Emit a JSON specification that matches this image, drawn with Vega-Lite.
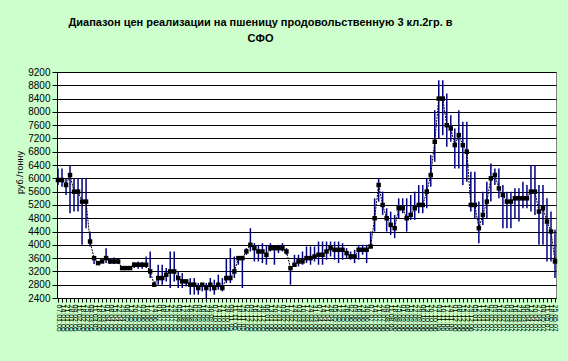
{
"$schema": "https://vega.github.io/schema/vega-lite/v6.json",
"autosize": "none",
"width": 499,
"height": 226,
"padding": {"left": 57, "top": 72, "right": 12, "bottom": 63},
"background": "#CCFFCC",
"title": {"text": ["Диапазон цен реализации на пшеницу продовольственную 3 кл.2гр. в", "СФО"], "font": "Liberation Sans", "fontSize": 11, "fontWeight": "bold", "color": "#000000", "anchor": "middle", "dx": -46, "offset": 23, "lineHeight": 16},
"config": {
  "view": {"fill": "#FFFFFF", "stroke": "#808080", "strokeWidth": 1},
  "axis": {"labelFont": "Liberation Sans", "titleFont": "Liberation Sans", "labelColor": "#000000", "titleColor": "#000000", "domainColor": "#000000", "tickColor": "#000000"}
},
"data": {"values": [
{"d":"07.01.05","c":5950,"h":6300,"l":5800},
{"d":"14.01.05","c":5950,"h":6300,"l":5750},
{"d":"21.01.05","c":5800,"h":5980,"l":5500},
{"d":"28.01.05","c":6100,"h":6380,"l":4950},
{"d":"04.02.05","c":5600,"h":6000,"l":5000},
{"d":"11.02.05","c":5600,"h":6000,"l":5000},
{"d":"18.02.05","c":5300,"h":6000,"l":4000},
{"d":"25.02.05","c":5300,"h":6000,"l":4500},
{"d":"04.03.05","c":4100,"h":4400,"l":3950},
{"d":"11.03.05","c":3600,"h":3650,"l":3420},
{"d":"18.03.05","c":3450,"h":3500,"l":3420},
{"d":"25.03.05","c":3500,"h":3550,"l":3450},
{"d":"01.04.05","c":3600,"h":3900,"l":3450},
{"d":"08.04.05","c":3500,"h":3600,"l":3420},
{"d":"15.04.05","c":3500,"h":3620,"l":3420},
{"d":"22.04.05","c":3500,"h":3580,"l":3420},
{"d":"29.04.05","c":3300,"h":3350,"l":3280},
{"d":"06.05.05","c":3300,"h":3350,"l":3280},
{"d":"13.05.05","c":3300,"h":3350,"l":3280},
{"d":"20.05.05","c":3400,"h":3480,"l":3300},
{"d":"27.05.05","c":3400,"h":3500,"l":3280},
{"d":"03.06.05","c":3400,"h":3480,"l":3280},
{"d":"10.06.05","c":3400,"h":3650,"l":3300},
{"d":"17.06.05","c":3200,"h":3800,"l":3000},
{"d":"24.06.05","c":2800,"h":2900,"l":2750},
{"d":"01.07.05","c":3000,"h":3400,"l":2800},
{"d":"08.07.05","c":3000,"h":3400,"l":2800},
{"d":"15.07.05","c":3100,"h":3300,"l":2900},
{"d":"22.07.05","c":3200,"h":3800,"l":2700},
{"d":"29.07.05","c":3200,"h":3800,"l":2900},
{"d":"05.08.05","c":3000,"h":3200,"l":2700},
{"d":"12.08.05","c":2900,"h":3150,"l":2700},
{"d":"19.08.05","c":2900,"h":2950,"l":2750},
{"d":"26.08.05","c":2800,"h":3000,"l":2500},
{"d":"02.09.05","c":2800,"h":3000,"l":2500},
{"d":"09.09.05","c":2700,"h":2850,"l":2500},
{"d":"16.09.05","c":2800,"h":2850,"l":2600},
{"d":"23.09.05","c":2700,"h":2850,"l":2400},
{"d":"30.09.05","c":2800,"h":3000,"l":2600},
{"d":"07.10.05","c":2700,"h":2950,"l":2500},
{"d":"14.10.05","c":2800,"h":3100,"l":2650},
{"d":"21.10.05","c":2700,"h":3000,"l":2600},
{"d":"28.10.05","c":3000,"h":3600,"l":2850},
{"d":"04.11.05","c":3000,"h":3900,"l":2850},
{"d":"11.11.05","c":3200,"h":3650,"l":3000},
{"d":"18.11.05","c":3600,"h":3650,"l":3400},
{"d":"25.11.05","c":3600,"h":3650,"l":2700},
{"d":"02.12.05","c":3800,"h":3900,"l":3700},
{"d":"09.12.05","c":4000,"h":4500,"l":3800},
{"d":"16.12.05","c":3900,"h":4050,"l":3500},
{"d":"23.12.05","c":3800,"h":4000,"l":3500},
{"d":"30.12.05","c":3800,"h":4050,"l":3450},
{"d":"06.01.06","c":3700,"h":4000,"l":3400},
{"d":"13.01.06","c":3900,"h":4050,"l":3800},
{"d":"20.01.06","c":3900,"h":3950,"l":3400},
{"d":"27.01.06","c":3900,"h":4000,"l":3750},
{"d":"03.02.06","c":3900,"h":4050,"l":3800},
{"d":"10.02.06","c":3800,"h":3900,"l":3700},
{"d":"17.02.06","c":3300,"h":3350,"l":2800},
{"d":"24.02.06","c":3400,"h":3700,"l":3350},
{"d":"03.03.06","c":3500,"h":3700,"l":3350},
{"d":"10.03.06","c":3500,"h":3800,"l":3400},
{"d":"17.03.06","c":3600,"h":3950,"l":3450},
{"d":"24.03.06","c":3600,"h":3950,"l":3400},
{"d":"31.03.06","c":3650,"h":3950,"l":3500},
{"d":"07.04.06","c":3700,"h":4100,"l":3400},
{"d":"14.04.06","c":3700,"h":4100,"l":3400},
{"d":"21.04.06","c":3800,"h":4100,"l":3550},
{"d":"28.04.06","c":3900,"h":4100,"l":3650},
{"d":"05.05.06","c":3850,"h":4100,"l":3550},
{"d":"12.05.06","c":3850,"h":4100,"l":3450},
{"d":"19.05.06","c":3850,"h":4050,"l":3550},
{"d":"26.05.06","c":3750,"h":3900,"l":3600},
{"d":"02.06.06","c":3650,"h":3800,"l":3550},
{"d":"09.06.06","c":3650,"h":3850,"l":3450},
{"d":"16.06.06","c":3850,"h":4000,"l":3550},
{"d":"23.06.06","c":3850,"h":4000,"l":3700},
{"d":"30.06.06","c":3850,"h":4000,"l":3450},
{"d":"07.07.06","c":3950,"h":4400,"l":3900},
{"d":"14.07.06","c":4800,"h":5400,"l":4400},
{"d":"21.07.06","c":5800,"h":6000,"l":5300},
{"d":"28.07.06","c":5200,"h":5600,"l":4900},
{"d":"04.08.06","c":4800,"h":5100,"l":4400},
{"d":"11.08.06","c":4600,"h":5000,"l":4300},
{"d":"18.08.06","c":4500,"h":4900,"l":4200},
{"d":"25.08.06","c":5100,"h":5400,"l":4800},
{"d":"01.09.06","c":5100,"h":5400,"l":4950},
{"d":"08.09.06","c":4800,"h":5400,"l":4400},
{"d":"15.09.06","c":4900,"h":5500,"l":4750},
{"d":"22.09.06","c":5100,"h":5600,"l":4750},
{"d":"29.09.06","c":5200,"h":5800,"l":4950},
{"d":"06.10.06","c":5200,"h":5800,"l":4950},
{"d":"13.10.06","c":5600,"h":6000,"l":5100},
{"d":"20.10.06","c":6100,"h":6700,"l":5750},
{"d":"27.10.06","c":7100,"h":8050,"l":6500},
{"d":"03.11.06","c":8400,"h":8950,"l":7200},
{"d":"10.11.06","c":8400,"h":8950,"l":7300},
{"d":"17.11.06","c":7600,"h":8550,"l":6950},
{"d":"24.11.06","c":7500,"h":7900,"l":7100},
{"d":"01.12.06","c":7000,"h":7500,"l":6300},
{"d":"08.12.06","c":7300,"h":8050,"l":6300},
{"d":"15.12.06","c":7000,"h":7700,"l":5800},
{"d":"22.12.06","c":6800,"h":7700,"l":5900},
{"d":"29.12.06","c":5200,"h":6200,"l":5000},
{"d":"05.01.07","c":5200,"h":6200,"l":4800},
{"d":"12.01.07","c":4500,"h":5300,"l":4050},
{"d":"19.01.07","c":4900,"h":5600,"l":4600},
{"d":"26.01.07","c":5300,"h":5900,"l":4800},
{"d":"02.02.07","c":6000,"h":6450,"l":5300},
{"d":"09.02.07","c":6100,"h":6300,"l":5800},
{"d":"16.02.07","c":5700,"h":6300,"l":5400},
{"d":"23.02.07","c":5500,"h":5800,"l":4500},
{"d":"02.03.07","c":5300,"h":5600,"l":4500},
{"d":"09.03.07","c":5300,"h":5600,"l":4500},
{"d":"16.03.07","c":5400,"h":5700,"l":4800},
{"d":"23.03.07","c":5400,"h":5700,"l":4700},
{"d":"30.03.07","c":5400,"h":5900,"l":5100},
{"d":"06.04.07","c":5400,"h":5800,"l":5100},
{"d":"13.04.07","c":5600,"h":6400,"l":5000},
{"d":"20.04.07","c":5600,"h":6400,"l":4900},
{"d":"27.04.07","c":5000,"h":5800,"l":4000},
{"d":"04.05.07","c":5100,"h":5800,"l":4000},
{"d":"11.05.07","c":4700,"h":5400,"l":3500},
{"d":"18.05.07","c":4400,"h":5000,"l":3500},
{"d":"25.05.07","c":3500,"h":4450,"l":3000}
]},
"encoding": {
  "x": {"field": "d", "type": "ordinal", "sort": null, "scale": {"type": "point", "padding": 0.25},
        "axis": {"title": null, "labelAngle": 90, "labelFontSize": 7, "labelOverlap": false, "labelPadding": 2, "tickSize": 4, "domain": true, "grid": false}}
},
"layer": [
  {"mark": {"type": "rule", "color": "#000080", "strokeWidth": 1.5},
   "encoding": {
     "y": {"field": "l", "type": "quantitative", "scale": {"domain": [2400, 9200], "nice": false, "zero": false},
           "axis": {"title": "руб./тонну", "titleFontSize": 9, "titleFontWeight": "normal", "titlePadding": 3, "titleY": 100,
                    "values": [2400,2800,3200,3600,4000,4400,4800,5200,5600,6000,6400,6800,7200,7600,8000,8400,8800,9200],
                    "format": "d", "labelOverlap": false, "labelFlush": false,
                    "labelFontSize": 10, "tickSize": 5, "labelPadding": 2, "grid": true, "gridColor": "#000000", "gridOpacity": 1, "gridWidth": 1}},
     "y2": {"field": "h"}
   }},
  {"mark": {"type": "line", "color": "#000000", "strokeWidth": 1, "strokeDash": [2, 1]},
   "encoding": {"y": {"field": "c", "type": "quantitative",
           "axis": {"title": "руб./тонну", "titleFontSize": 9, "titleFontWeight": "normal", "titlePadding": 3, "titleY": 100,
                    "values": [2400,2800,3200,3600,4000,4400,4800,5200,5600,6000,6400,6800,7200,7600,8000,8400,8800,9200],
                    "format": "d", "labelOverlap": false, "labelFlush": false,
                    "labelFontSize": 10, "tickSize": 5, "labelPadding": 2, "grid": true, "gridColor": "#000000", "gridOpacity": 1, "gridWidth": 1}}}},
  {"mark": {"type": "square", "color": "#000000", "filled": true, "opacity": 1, "size": 20},
   "encoding": {"y": {"field": "c", "type": "quantitative",
           "axis": {"title": "руб./тонну", "titleFontSize": 9, "titleFontWeight": "normal", "titlePadding": 3, "titleY": 100,
                    "values": [2400,2800,3200,3600,4000,4400,4800,5200,5600,6000,6400,6800,7200,7600,8000,8400,8800,9200],
                    "format": "d", "labelOverlap": false, "labelFlush": false,
                    "labelFontSize": 10, "tickSize": 5, "labelPadding": 2, "grid": true, "gridColor": "#000000", "gridOpacity": 1, "gridWidth": 1}}}}
]
}
